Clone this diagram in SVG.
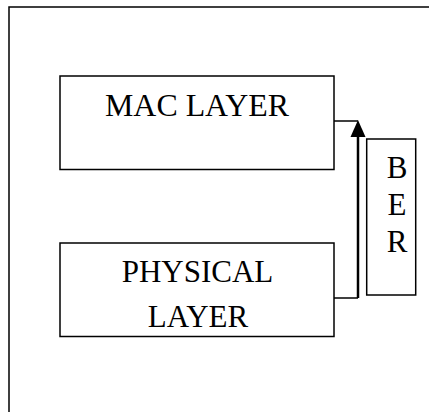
<svg xmlns="http://www.w3.org/2000/svg" width="429" height="412" viewBox="0 0 429 412">
<style>
.box{fill:#fff;stroke:#000;stroke-width:1.5}
.t{font-family:"Liberation Serif","Times New Roman",serif;font-size:31px;fill:#000}
.ln{fill:none;stroke:#000;stroke-width:1.5}
</style>
<rect x="9" y="7" width="500" height="500" fill="#fff" stroke="#000" stroke-width="1.5"/>
<g id="mac">
<rect class="box" x="60" y="76" width="274" height="93.5"/>
<text class="t" x="197" y="115.7" text-anchor="middle" textLength="184" lengthAdjust="spacingAndGlyphs">MAC LAYER</text>
</g>
<g id="physical">
<rect class="box" x="60" y="243" width="274" height="93.5"/>
<text class="t" x="197.5" y="281.7" text-anchor="middle">PHYSICAL</text>
<text class="t" x="198" y="326.5" text-anchor="middle">LAYER</text>
</g>
<g id="ber">
<rect class="box" x="366.7" y="139" width="49" height="156"/>
<text class="t" x="397" y="178.3" text-anchor="middle">B</text>
<text class="t" x="397" y="215" text-anchor="middle">E</text>
<text class="t" x="397" y="251.7" text-anchor="middle">R</text>
</g>
<g id="connectors">
<path class="ln" d="M334,298 H358"/>
<path d="M358,298 V136" fill="none" stroke="#000" stroke-width="2.5"/>
<polygon points="358,120 350.5,137 365.5,137" fill="#000"/>
<path class="ln" d="M334,121 H358"/>
</g>
</svg>
